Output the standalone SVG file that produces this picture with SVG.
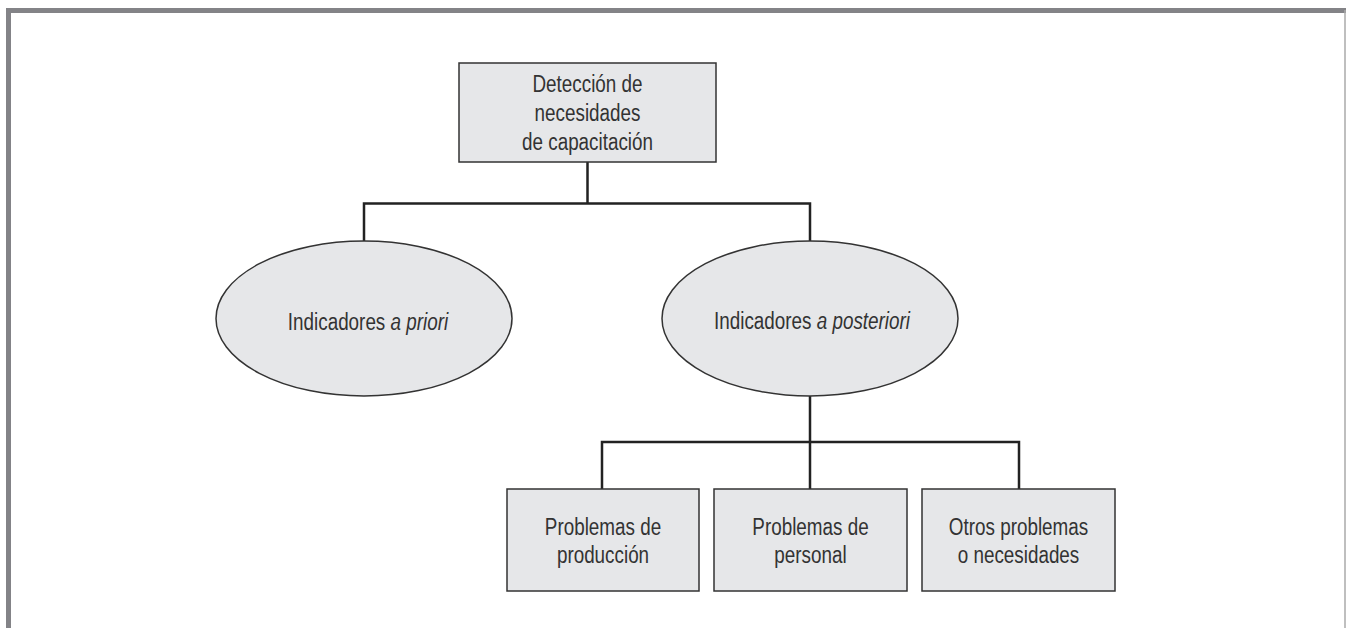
<svg xmlns="http://www.w3.org/2000/svg" width="1346" height="628" viewBox="0 0 1346 628">
<style>
.frame{fill:none;stroke:#838387;stroke-width:5}
.node{fill:#e6e7e9;stroke:#333;stroke-width:1.5}
.conn{fill:none;stroke:#222;stroke-width:2.5}
text{font-family:"Liberation Sans",Arial,sans-serif;font-size:23px;fill:#333;text-anchor:middle}
</style>
<rect width="1346" height="628" fill="#fff"/>
<path class="frame" d="M8.5,628 V10.5 H1346"/>
<line x1="1345" y1="10" x2="1345" y2="628" stroke="#aaa" stroke-width="1.5"/>
<g id="connectors">
<path class="conn" d="M587.5,162 V203.5 M364,241 V203.5 H810 V241"/>
<path class="conn" d="M810,396 V489 M602,489 V442 H1019 V489"/>
</g>
<g id="root">
<rect class="node" x="459" y="63" width="257" height="99"/>
<text transform="translate(587.5,92) scale(0.82,1)">Detección de</text>
<text transform="translate(587.5,121) scale(0.82,1)">necesidades</text>
<text transform="translate(587.5,150) scale(0.82,1)">de capacitación</text>
</g>
<g id="priori">
<ellipse class="node" cx="364" cy="318.5" rx="148" ry="77.5"/>
<text transform="translate(368,330) scale(0.82,1)">Indicadores <tspan font-style="italic">a priori</tspan></text>
</g>
<g id="posteriori">
<ellipse class="node" cx="810" cy="318.5" rx="148" ry="77.5"/>
<text transform="translate(812,329) scale(0.82,1)">Indicadores <tspan font-style="italic">a posteriori</tspan></text>
</g>
<g id="produccion">
<rect class="node" x="507" y="489" width="192" height="102"/>
<text transform="translate(603,535) scale(0.82,1)">Problemas de</text>
<text transform="translate(603,563) scale(0.82,1)">producción</text>
</g>
<g id="personal">
<rect class="node" x="714" y="489" width="193" height="102"/>
<text transform="translate(810.5,535) scale(0.82,1)">Problemas de</text>
<text transform="translate(810.5,563) scale(0.82,1)">personal</text>
</g>
<g id="otros">
<rect class="node" x="922" y="489" width="193" height="102"/>
<text transform="translate(1018.5,535) scale(0.82,1)">Otros problemas</text>
<text transform="translate(1018.5,563) scale(0.82,1)">o necesidades</text>
</g>
</svg>
